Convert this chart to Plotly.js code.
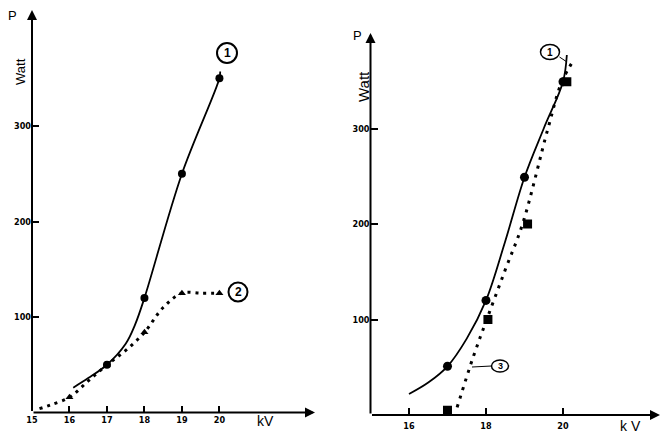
<!DOCTYPE html>
<html><head><meta charset="utf-8">
<script src="https://cdn.plot.ly/plotly-3.0.1.min.js"></script>
<style>html,body{margin:0;padding:0;background:#fff}#c{width:669px;height:438px}</style>
</head><body><div id="c"></div>
<script>
// ---- data ----
// left panel
const L_kv = [17, 18, 19, 20];
const L_s1_P = [50, 120, 250, 350];               // curve 1 points (circles)
const L_s1_curveKV = [16.1, 16.5, 17, 17.5, 17.75, 18, 19, 20, 20.02];
const L_s1_curveP  = [26, 36, 50, 72, 92, 120, 250, 350, 357];
const L_s2_kv = [16, 17, 18, 19, 20];
const L_s2_P  = [16, 50, 84, 125, 125];            // curve 2 points (triangles)
const L_s2_curveKV = [15.2, 15.5, 16, 16.5, 17, 17.5, 18, 18.5, 19, 19.5, 20];
const L_s2_curveP  = [4, 8, 16, 33, 50, 65, 84, 110, 125, 125, 125];
const L_xticks = [15, 16, 17, 18, 19, 20];
const L_xlabels = ['15', '16', '17', '18', '19', '20'];
// right panel
const R_s1_kv = [17, 18, 19, 20];
const R_s1_P  = [51, 120, 249, 349];
const R_s1_curveKV = [16, 16.5, 17, 17.5, 18, 18.5, 19, 19.5, 20, 20.1];
const R_s1_curveP  = [22, 34, 51, 80, 120, 182, 249, 300, 349, 377];
const R_s3_kv = [17, 18.05, 19.08, 20.1];
const R_s3_P  = [5, 100, 200, 349];
const R_s3_curveKV = [17.25, 17.67, 18.02, 18.5, 18.95, 19.61, 19.97, 20.3];
const R_s3_curveP  = [8, 61, 100, 152, 200, 300, 349, 373];
const R_xticks = [16, 18, 20];
const R_xlabels = ['16', '18', '20'];
const yticks = [100, 200, 300];
const ylabels = ['100', '200', '300'];

const W = 669, H = 438;
const px = x => x / W, py = y => 1 - y / H;
const TF = {family: 'DejaVu Sans Condensed, DejaVu Sans, sans-serif', size: 9, color: '#000', weight: 'bold'};
const LF = {family: 'Liberation Sans, Arial, sans-serif', size: 13, color: '#000'};
const NF = s => ({family: 'Liberation Sans, Arial, sans-serif', size: s, color: '#000', weight: 'bold'});

const traces = [
  {x: L_s1_curveKV, y: L_s1_curveP, xaxis: 'x', yaxis: 'y', mode: 'lines', line: {color: '#000', width: 1.8, shape: 'spline', smoothing: 1}},
  {x: L_kv, y: L_s1_P, xaxis: 'x', yaxis: 'y', mode: 'markers', marker: {color: '#000', size: 8, symbol: 'circle'}},
  {x: L_s2_curveKV, y: L_s2_curveP, xaxis: 'x', yaxis: 'y', mode: 'lines', line: {color: '#000', width: 3, dash: '3px,5px', shape: 'spline', smoothing: 1}},
  {x: L_s2_kv, y: L_s2_P, xaxis: 'x', yaxis: 'y', mode: 'markers', marker: {color: '#000', size: 7, symbol: 'triangle-up'}},
  {x: R_s1_curveKV, y: R_s1_curveP, xaxis: 'x2', yaxis: 'y2', mode: 'lines', line: {color: '#000', width: 1.8, shape: 'spline', smoothing: 1}},
  {x: R_s1_kv, y: R_s1_P, xaxis: 'x2', yaxis: 'y2', mode: 'markers', marker: {color: '#000', size: 9, symbol: 'circle'}},
  {x: R_s3_curveKV, y: R_s3_curveP, xaxis: 'x2', yaxis: 'y2', mode: 'lines', line: {color: '#000', width: 3, dash: '3px,6px', shape: 'spline', smoothing: 1}},
  {x: R_s3_kv, y: R_s3_P, xaxis: 'x2', yaxis: 'y2', mode: 'markers', marker: {color: '#000', size: 9, symbol: 'square'}}
];

const axBase = {showgrid: false, zeroline: false, showline: false, ticks: 'inside', ticklen: 7, tickwidth: 2, tickcolor: '#000', tickfont: TF, fixedrange: true};

function txt(x, y, text, font, angle) {
  return {xref: 'paper', yref: 'paper', x: px(x), y: py(y), text: text, showarrow: false, font: font,
          xanchor: 'center', yanchor: 'middle', textangle: angle || 0};
}

const layout = {
  width: W, height: H, margin: {l: 0, r: 0, t: 0, b: 0},
  paper_bgcolor: '#fff', plot_bgcolor: 'rgba(0,0,0,0)', showlegend: false,
  xaxis: Object.assign({}, axBase, {domain: [px(32), px(315)], range: [15, 22.55], tickvals: L_xticks, ticktext: L_xlabels, anchor: 'y'}),
  yaxis: Object.assign({}, axBase, {domain: [py(412.5), py(10)], range: [0, 421.5], tickvals: yticks, ticktext: ylabels, anchor: 'x'}),
  xaxis2: Object.assign({}, axBase, {domain: [px(370.5), px(660)], range: [15, 22.52], tickvals: R_xticks, ticktext: R_xlabels, anchor: 'y2', ticklabelstandoff: 4}),
  yaxis2: Object.assign({}, axBase, {domain: [py(415), py(33)], range: [0, 400], tickvals: yticks, ticktext: ylabels, anchor: 'x2'}),
  annotations: [
    // axis arrows
    {xref: 'x', yref: 'y', axref: 'x', ayref: 'y', x: 22.55, y: 0, ax: 15, ay: 0, showarrow: true, arrowhead: 2, arrowsize: 1, arrowwidth: 2, arrowcolor: '#000', text: ''},
    {xref: 'x', yref: 'y', axref: 'x', ayref: 'y', x: 15, y: 421.5, ax: 15, ay: 0, showarrow: true, arrowhead: 2, arrowsize: 1, arrowwidth: 2, arrowcolor: '#000', text: ''},
    {xref: 'x2', yref: 'y2', axref: 'x2', ayref: 'y2', x: 22.52, y: 0, ax: 15, ay: 0, showarrow: true, arrowhead: 2, arrowsize: 1, arrowwidth: 2, arrowcolor: '#000', text: ''},
    {xref: 'x2', yref: 'y2', axref: 'x2', ayref: 'y2', x: 15, y: 400, ax: 15, ay: 0, showarrow: true, arrowhead: 2, arrowsize: 1, arrowwidth: 2, arrowcolor: '#000', text: ''},
    // axis titles
    txt(13, 15, 'P', LF),
    txt(20, 72, 'Watt', LF, -90),
    txt(265, 421, 'kV', Object.assign({}, LF, {size: 14})),
    txt(358, 35, 'P', LF),
    txt(363, 87, 'Watt', Object.assign({}, LF, {size: 15}), -90),
    txt(630, 426, 'k V', Object.assign({}, LF, {size: 14})),
    // curve labels
    txt(227, 53, '1', NF(12)),
    txt(238, 292, '2', NF(12)),
    txt(550, 52, '1', NF(10)),
    txt(500, 366, '3', NF(9))
  ],
  shapes: [
    {type: 'circle', xref: 'paper', yref: 'paper', x0: px(217), x1: px(237), y0: py(63), y1: py(43), line: {color: '#000', width: 2}},
    {type: 'circle', xref: 'paper', yref: 'paper', x0: px(228.5), x1: px(247.5), y0: py(301.5), y1: py(282.5), line: {color: '#000', width: 2}},
    {type: 'circle', xref: 'paper', yref: 'paper', x0: px(540.5), x1: px(559.5), y0: py(59.5), y1: py(44.5), line: {color: '#000', width: 1.5}},
    {type: 'circle', xref: 'paper', yref: 'paper', x0: px(491.5), x1: px(508.5), y0: py(372), y1: py(360), line: {color: '#000', width: 1.5}},
    {type: 'line', xref: 'paper', yref: 'paper', x0: px(559.5), y0: py(57), x1: px(567), y1: py(62), line: {color: '#000', width: 1}},
    {type: 'line', xref: 'paper', yref: 'paper', x0: px(472), y0: py(367), x1: px(491.5), y1: py(366), line: {color: '#000', width: 1}}
  ]
};

Plotly.newPlot('c', traces, layout, {staticPlot: true, displayModeBar: false});
</script></body></html>
